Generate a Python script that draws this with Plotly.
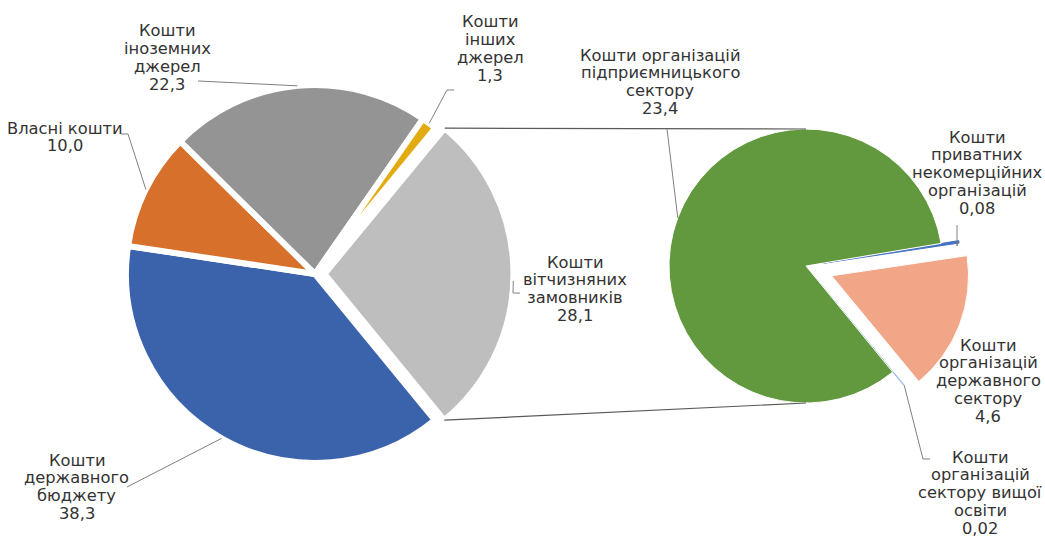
import math
import plotly.graph_objects as go

W, H = 1045, 549

# ---- data ----
left_labels = [["Кошти", "вітчизняних", "замовників"], ["Кошти", "державного", "бюджету"],
               ["Власні кошти"], ["Кошти", "іноземних", "джерел"], ["Кошти", "інших", "джерел"]]
left_values = [28.1, 38.3, 10.0, 22.3, 1.3]
left_colors = ["#BEBEBE", "#3B63AC", "#D7702A", "#949494", "#E2AB10"]
left_pull = [0.05, 0, 0, 0, 0]

right_labels = [["Кошти", "приватних", "некомерційних", "організацій"],
                ["Кошти", "організацій", "державного", "сектору"],
                ["Кошти", "організацій", "сектору вищої", "освіти"],
                ["Кошти організацій", "підприємницького", "сектору"]]
right_values = [0.08, 4.6, 0.02, 23.4]
right_colors = ["#4472C4", "#F1A687", "#9DC3E6", "#63993E"]
right_pull = [0.13, 0.2, 0.13, 0]

# ---- geometry (pixels in the 1045x549 window) ----
LC, LR, LROT = (315, 274), 189, 39.5
RC, RR, RROT = (806, 266), 137, 80.5
FONT = dict(family="DejaVu Sans", size=16.3, color="#333333")
LINE = 17.8


def px(x):
    return x / W


def py(y):
    return 1 - y / H


def domain(c, r, pulls):
    half = r * (1 + max(pulls))
    return dict(x=[px(c[0] - half), px(c[0] + half)], y=[py(c[1] + half), py(c[1] - half)])


def fmt(v):
    return (f"{v:.2f}" if v < 0.1 else f"{v:.1f}").replace(".", ",")


def slice_angles(values, rot, i):
    tot = sum(values)
    a0 = rot + 360 * sum(values[:i]) / tot
    a1 = a0 + 360 * values[i] / tot
    return a0, a1


def pt(c, r, ang):
    a = math.radians(ang)
    return (c[0] + r * math.sin(a), c[1] - r * math.cos(a))


def pulled_center(c, r, values, rot, pulls, i):
    a0, a1 = slice_angles(values, rot, i)
    return pt(c, r * pulls[i], (a0 + a1) / 2)


def arc_mid(c, r, values, rot, pulls, i, frac=0.5):
    a0, a1 = slice_angles(values, rot, i)
    pc = pulled_center(c, r, values, rot, pulls, i)
    return pt(pc, r, a0 + frac * (a1 - a0))


fig = go.Figure()
fig.add_trace(go.Pie(
    values=left_values, labels=[" ".join(l) for l in left_labels],
    marker=dict(colors=left_colors, line=dict(color="white", width=6)),
    pull=left_pull, sort=False, direction="clockwise", rotation=LROT,
    textinfo="none", hoverinfo="label+value", domain=domain(LC, LR, left_pull),
    showlegend=False))
fig.add_trace(go.Pie(
    values=right_values, labels=[" ".join(l) for l in right_labels],
    marker=dict(colors=right_colors,
                line=dict(color=[right_colors[0], "white", right_colors[2], "white"], width=1)),
    pull=right_pull, sort=False, direction="clockwise", rotation=RROT,
    textinfo="none", hoverinfo="label+value", domain=domain(RC, RR, right_pull),
    showlegend=False))

shapes = []


def path(points, color="#808080", width=1):
    d = "M " + " L ".join(f"{px(x):.5f},{py(y):.5f}" for x, y in points)
    shapes.append(dict(type="path", path=d, xref="paper", yref="paper",
                       line=dict(color=color, width=width)))


# connector lines between the pies
a0, a1 = slice_angles(left_values, LROT, 0)
lpc = pulled_center(LC, LR, left_values, LROT, left_pull, 0)
path([pt(lpc, LR, a0), pt(RC, RR, 0)], color="#595959", width=1.2)
path([pt(lpc, LR, a1), pt(RC, RR, 180)], color="#595959", width=1.2)

annotations = []


def label(lines, value, x, yfirst):
    for k, t in enumerate(lines + [fmt(value)]):
        annotations.append(dict(text=t, x=px(x), y=py(yfirst + k * LINE),
                                xref="paper", yref="paper", xanchor="center",
                                yanchor="middle", showarrow=False, font=FONT))


# left pie labels + leaders
label(left_labels[3], left_values[3], 167, 31)
path([(198, 81), arc_mid(LC, LR, left_values, LROT, left_pull, 3)])
label(left_labels[2], left_values[2], 65, 128)
path([(121, 134), (128, 134), arc_mid(LC, LR, left_values, LROT, left_pull, 2)])
label(left_labels[4], left_values[4], 490, 22)
path([(454, 90), (447, 90), arc_mid(LC, LR, left_values, LROT, left_pull, 4)])
label(left_labels[1], left_values[1], 77, 460)
path([(127, 487), arc_mid(LC, LR, left_values, LROT, left_pull, 1)])
label(left_labels[0], left_values[0], 575, 262)
path([(520, 293), (513, 293), arc_mid(LC, LR, left_values, LROT, left_pull, 0, 0.52)])

# right pie labels + leaders
label(right_labels[3], right_values[3], 660, 55)
path([(667, 129), arc_mid(RC, RR, right_values, RROT, right_pull, 3)])
label(right_labels[0], right_values[0], 977, 137)
path([(957, 225), (957, 246), arc_mid(RC, RR, right_values, RROT, right_pull, 0)])
label(right_labels[1], right_values[1], 988, 345)
label(right_labels[2], right_values[2], 980, 457)
path([(930, 459), (923, 459), arc_mid(RC, RR, right_values, RROT, right_pull, 2)])

fig.update_layout(width=W, height=H, margin=dict(l=0, r=0, t=0, b=0),
                  paper_bgcolor="white", plot_bgcolor="white",
                  shapes=shapes, annotations=annotations)
fig.write_html("out.html", config={"displayModeBar": False},
               post_script="document.body.style.margin='0';"
                           "document.body.style.overflow='hidden';")
